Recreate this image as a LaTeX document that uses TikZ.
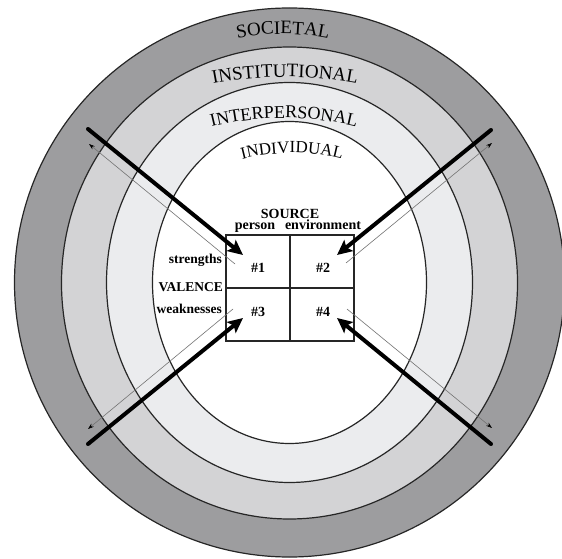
\documentclass[tikz,border=0pt]{standalone}
\usepackage{fontspec}
\setmainfont{Liberation Serif}
\usetikzlibrary{arrows.meta,decorations.text}
\definecolor{ringSoc}{HTML}{9D9D9F}
\definecolor{ringInst}{HTML}{D3D3D5}
\definecolor{ringInter}{HTML}{EBECEE}

\begin{document}
\begin{tikzpicture}[x=1pt,y=1pt,
    ring/.style={draw=black!85, line width=1.2pt},
    cell/.style={draw=black!85, line width=1.3pt, minimum width=64pt, minimum height=53pt, inner sep=0pt},
    lab/.style={font=\fontsize{14}{14}\selectfont\bfseries, inner sep=0pt},
    inarrow/.style={line width=4pt, line cap=round, -{Stealth[length=15pt,width=14pt,inset=3pt]}},
    outarrow/.style={line width=0.6pt, draw=black!55, -{Stealth[length=6pt,width=4pt,color=black]}},
    arclabel/.style={decorate, decoration={text along path, text align=center, text={#1}}}
  ]
    \useasboundingbox (0,0) rectangle (562,558);
    \clip (0,0) rectangle (562,558);

    % Ringe
    \filldraw[ring, fill=ringSoc] (289.5,275.5) ellipse [x radius=275, y radius=274.5];
    \filldraw[ring, fill=ringInst] (289.5,275) ellipse [x radius=228, y radius=236];
    \filldraw[ring, fill=ringInter] (289.5,275.5) ellipse [x radius=183, y radius=200];
    \filldraw[ring, fill=white] (289.5,275.5) ellipse [x radius=137, y radius=161];

    % Ringbeschriftungen
    \path[arclabel={|\fontsize{19}{19}\selectfont|SOCIETAL}] (283,294) ++(110:230) arc[start angle=110, end angle=70, radius=230];
    \path[arclabel={|\fontsize{19}{19}\selectfont|INSTITUTIONAL}] (285,101) ++(115:380) arc[start angle=115, end angle=65, radius=380];
    \path[arclabel={|\fontsize{18}{18}\selectfont|INTERPERSONAL}] (284,140) ++(118:300) arc[start angle=118, end angle=62, radius=300];
    \path[arclabel={|\fontsize{17}{17}\selectfont|INDIVIDUAL}] (292,205) ++(125:200) arc[start angle=125, end angle=55, radius=200];

    % Felder
    \node[cell] (c1) at (258,296.5) {};
    \node[cell] (c2) at (322,296.5) {};
    \node[cell] (c3) at (258,243.5) {};
    \node[cell] (c4) at (322,243.5) {};
    \node[lab, anchor=base] (n1) at (258,286) {\#1};
    \node[lab, anchor=base] (n2) at (323,286) {\#2};
    \node[lab, anchor=base] (n3) at (258,242) {\#3};
    \node[lab, anchor=base] (n4) at (323,242) {\#4};

    % Beschriftungen oben und links
    \node[lab, anchor=base] (source) at (290,340) {SOURCE};
    \node[lab, anchor=base] (person) at (255,329) {person};
    \node[lab, anchor=base] (environ) at (323,329) {environment};
    \node[lab, anchor=base east, font=\fontsize{13.5}{14}\selectfont\bfseries] (strength) at (222,295) {strengths};
    \node[lab, anchor=base east, font=\fontsize{13.5}{14}\selectfont\bfseries] (valence) at (223,267) {VALENCE};
    \node[lab, anchor=base east, font=\fontsize{13.5}{14}\selectfont\bfseries] (weak) at (222,245) {weaknesses};

    % Pfeile
    \coordinate (tl-in) at (88,429);   \coordinate (tl-tip) at (243,303);
    \coordinate (tr-in) at (491,428);  \coordinate (tr-tip) at (337,303);
    \coordinate (bl-in) at (88,114);   \coordinate (bl-tip) at (243,240);
    \coordinate (br-in) at (491,114);  \coordinate (br-tip) at (337,240);
    \coordinate (tl-from) at (235,294); \coordinate (tl-out) at (89,414);
    \coordinate (tr-from) at (346,295); \coordinate (tr-out) at (492,415);
    \coordinate (bl-from) at (233,249); \coordinate (bl-out) at (88,129);
    \coordinate (br-from) at (347,249); \coordinate (br-out) at (492,130);

    \draw[outarrow] (tl-from) -- (tl-out);
    \draw[outarrow] (tr-from) -- (tr-out);
    \draw[outarrow] (bl-from) -- (bl-out);
    \draw[outarrow] (br-from) -- (br-out);
    \draw[inarrow] (tl-in) -- (tl-tip);
    \draw[inarrow] (tr-in) -- (tr-tip);
    \draw[inarrow] (bl-in) -- (bl-tip);
    \draw[inarrow] (br-in) -- (br-tip);
  \end{tikzpicture}
\end{document}
